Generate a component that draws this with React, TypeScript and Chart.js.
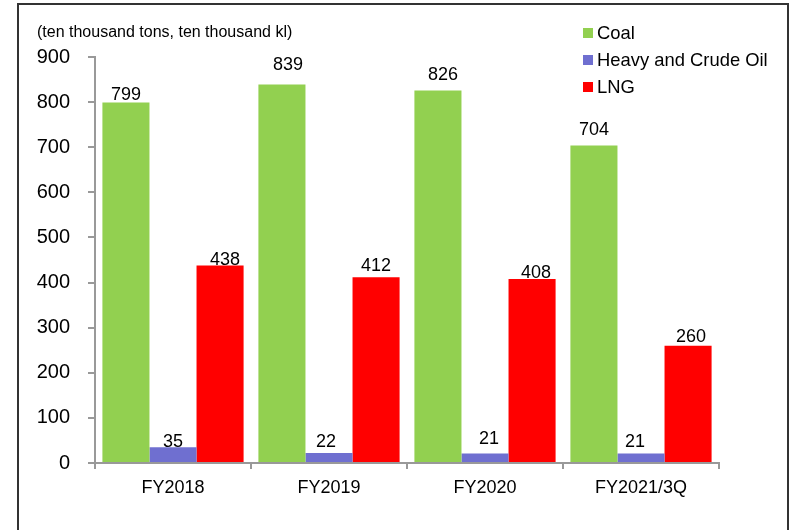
import React, { useEffect, useRef } from "react";
import { Chart, registerables } from "chart.js";

Chart.register(...registerables);

const categories = ["FY2018", "FY2019", "FY2020", "FY2021/3Q"];
const coalValues = [799, 839, 826, 704];
const oilValues = [35, 22, 21, 21];
const lngValues = [438, 412, 408, 260];
const seriesNames = ["Coal", "Heavy and Crude Oil", "LNG"];
const unitLabel = "(ten thousand tons, ten thousand kl)";
const yMin = 0;
const yMax = 900;
const yStep = 100;

const FONT = "'Liberation Sans', Arial, Helvetica, sans-serif";
const colors = ["#92D050", "#6F6FD0", "#FF0000"];
// per-label style nudges (pixels), matching the reference's hand-placed labels
const labelGaps = [
  [3, 15, 10, 10],
  [0, 6, 10, 7],
  [0, 6, 1, 4],
];
const labelShifts = [
  [0, 6, 5, 0],
  [0, -3, 4, -6],
  [5, 0, 4, 3],
];

const decorPlugin = {
  id: "decor",
  afterDatasetsDraw(chart: any) {
    const ctx = chart.ctx;
    ctx.save();
    // data labels
    ctx.fillStyle = "#000";
    ctx.font = `18px ${FONT}`;
    ctx.textAlign = "center";
    ctx.textBaseline = "alphabetic";
    chart.data.datasets.forEach((ds: any, di: number) => {
      const meta = chart.getDatasetMeta(di);
      meta.data.forEach((el: any, i: number) => {
        const v = ds.data[i];
        ctx.fillText(String(v), el.x + labelShifts[di][i], el.y - labelGaps[di][i]);
      });
    });
    // unit label
    ctx.textAlign = "left";
    ctx.font = `16px ${FONT}`;
    ctx.fillText(unitLabel, 37, 37);
    // legend
    ctx.font = `18.4px ${FONT}`;
    ctx.textBaseline = "middle";
    chart.data.datasets.forEach((ds: any, di: number) => {
      const cy = 33 + di * 27;
      ctx.fillStyle = ds.backgroundColor;
      ctx.fillRect(583, cy - 5, 10, 10);
      ctx.fillStyle = "#000";
      ctx.fillText(ds.label, 597, cy + 1);
    });
    ctx.restore();
  },
};

export default function App() {
  const canvasRef = useRef<HTMLCanvasElement | null>(null);

  useEffect(() => {
    if (!canvasRef.current) return;
    const chart = new Chart(canvasRef.current, {
      type: "bar",
      data: {
        labels: categories,
        datasets: [
          { label: seriesNames[0], data: coalValues, backgroundColor: colors[0] },
          { label: seriesNames[1], data: oilValues, backgroundColor: colors[1] },
          { label: seriesNames[2], data: lngValues, backgroundColor: colors[2] },
        ],
      },
      options: {
        responsive: false,
        animation: false,
        devicePixelRatio: 1,
        layout: { padding: { top: 57, right: 71, left: 0, bottom: 0 } },
        datasets: {
          bar: { categoryPercentage: 0.905, barPercentage: 1.0 },
        },
        plugins: {
          legend: { display: false },
          tooltip: { enabled: false },
          title: { display: false },
        },
        scales: {
          x: {
            grid: {
              display: true,
              drawOnChartArea: false,
              drawTicks: true,
              tickLength: 6,
              color: "#999999",
              lineWidth: 2,
              offset: true,
            },
            border: { display: true, color: "#999999", width: 2 },
            ticks: {
              color: "#000",
              font: { family: FONT, size: 18 },
              padding: 8,
            },
            afterFit(scale: any) {
              scale.height = 67;
            },
          },
          y: {
            min: yMin,
            max: yMax,
            grid: {
              display: true,
              drawOnChartArea: false,
              drawTicks: true,
              tickLength: 7,
              color: "#999999",
              lineWidth: 2,
            },
            border: { display: true, color: "#999999", width: 2 },
            ticks: {
              stepSize: yStep,
              color: "#000",
              font: { family: FONT, size: 20 },
              padding: 18,
            },
            afterFit(scale: any) {
              scale.width = 95;
            },
          },
        },
      },
      plugins: [decorPlugin],
    });
    return () => chart.destroy();
  }, []);

  return (
    <div
      style={{
        position: "fixed",
        left: 0,
        top: 0,
        width: 790,
        height: 530,
        background: "#fff",
        overflow: "hidden",
      }}
    >
      <canvas
        ref={canvasRef}
        width={790}
        height={530}
        style={{ display: "block", position: "absolute", left: 0, top: 0 }}
      />
      <div
        style={{
          position: "absolute",
          left: 17,
          top: 3,
          width: 772,
          height: 560,
          border: "2px solid #333",
          boxSizing: "border-box",
          pointerEvents: "none",
        }}
      />
    </div>
  );
}
